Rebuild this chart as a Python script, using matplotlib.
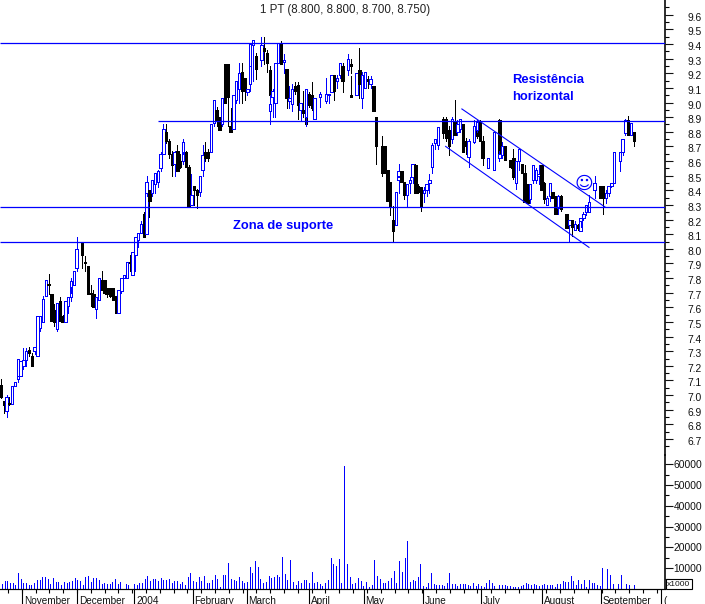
import numpy as np
import matplotlib
matplotlib.use("Agg")
import matplotlib.pyplot as plt
from matplotlib.transforms import ScaledTranslation

plt.rcParams['font.family'] = ['Liberation Sans', 'DejaVu Sans']

title = "1 PT (8.800, 8.800, 8.700, 8.750)"

day = [0,1,2,3,4,5,6,6,7,8, 9,10,11,12,13,14,15,16,17,18,
       19,20,21,22,22,23,24,25,25,26, 27,29,29,30,31,32,33,34,35,36,
       37,38,39,40,41,42,43,44,45,46, 47,48,49,50,51,52,52,53,54,55,
       56,57,58,59,60,61,62,63,64,65, 65,66,67,68,69,70,71,72,73,74,
       75,76,77,78,79,80,81,82,83,84, 85,86,87,88,89,89,90,91,93,94,
       95,96,96,97,98,99,100,101,102,103, 104,105,106,107,108,109,109,110,111,112,
       114,116,117,118,119,120,121,122,124,125, 125,127,128,129,130,131,132,133,134,136,
       137,138,139,140,141,142,142,143,144,145, 146,147,148,149,150,151,152,153,154,155,
       156,158,159,160,161,162,163,164,165,166, 167,169,170,170,171,172,174,176,176,178,
       178,179,180,182,183,184,185,186,187,188, 189,190,191,192,193,194,195,196,197,198,
       199,200,202,203,204,205,206,207,207,208, 209,210,212,214,215,215,216,217,218,219,
       221,222,223,224,225,226]

open_ = [7.07,6.96,6.89,6.945,6.94,7.06,7.11,7.13,7.13,7.20,
         7.24,7.31,7.27,7.30,7.27,7.46,7.50,7.68,7.76,7.69,
         7.58,7.45,7.64,7.54,7.54,7.50,7.61,7.67,7.74,7.75,
         7.87,8.05,7.98,7.91,7.88,7.70,7.69,7.59,7.65,7.79,
         7.79,7.73,7.73,7.73,7.68,7.56,7.71,7.80,7.80,7.91,
         7.82,7.96,8.06,8.11,8.24,8.10,8.38,8.40,8.38,8.44,
         8.46,8.55,8.65,8.80,8.74,8.65,8.58,8.67,8.60,8.60,
         8.66,8.66,8.56,8.30,8.43,8.405,8.39,8.54,8.66,8.66,
         8.66,8.86,8.95,8.90,8.85,9.26,9.26,8.84,8.82,9.02,
         9.09,9.21,9.17,9.07,9.13,9.25,9.39,9.32,9.29,9.37,
         9.34,9.22,8.94,9.04,9.00,9.27,9.41,9.28,9.23,9.01,
         8.99,9.11,9.12,8.95,8.95,8.94,8.90,9.06,9.05,8.89,
         9.04,9.01,9.05,9.07,9.19,9.15,9.19,9.25,9.22,9.26,
         9.05,9.05,9.22,9.03,9.10,9.16,9.13,9.11,8.90,8.70,
         8.70,8.54,8.46,8.20,8.16,8.50,8.47,8.53,8.46,8.37,
         8.45,8.49,8.57,8.43,8.42,8.38,8.40,8.45,8.56,8.72,
         8.71,8.89,8.89,8.81,8.75,8.87,8.80,8.82,8.85,8.74,
         8.63,8.73,8.84,8.81,8.87,8.74,8.55,8.61,8.54,8.88,
         8.62,8.64,8.70,8.61,8.62,8.45,8.60,8.58,8.52,8.44,
         8.34,8.47,8.47,8.50,8.57,8.45,8.30,8.36,8.39,8.36,
         8.28,8.36,8.24,8.16,8.20,8.13,8.16,8.12,8.19,8.21,
         8.25,8.25,8.40,8.43,8.43,8.40,8.35,8.38,8.43,8.45,
         8.60,8.66,8.79,8.88,8.78,8.80]

high = [7.11,6.96,7.00,6.99,7.06,7.09,7.13,7.25,7.23,7.32,
        7.32,7.33,7.29,7.33,7.54,7.54,7.68,7.79,7.83,7.69,
        7.62,7.63,7.67,7.55,7.55,7.64,7.67,7.80,7.78,7.85,
        8.08,8.05,7.98,7.95,7.88,7.75,7.72,7.67,7.80,7.85,
        7.79,7.73,7.73,7.73,7.68,7.72,7.80,7.82,7.91,7.96,
        7.98,8.08,8.11,8.19,8.25,8.39,8.50,8.40,8.47,8.52,
        8.54,8.66,8.85,8.85,8.75,8.67,8.67,8.71,8.65,8.75,
        8.74,8.67,8.57,8.51,8.43,8.41,8.50,8.71,8.73,8.68,
        8.85,9.02,8.97,8.90,9.03,9.26,9.26,8.96,9.05,9.15,
        9.27,9.27,9.17,9.09,9.25,9.40,9.43,9.34,9.45,9.45,
        9.36,9.25,9.05,9.09,9.27,9.41,9.42,9.33,9.23,9.11,
        9.13,9.14,9.14,9.00,9.08,8.96,9.09,9.07,9.14,9.03,
        9.07,9.17,9.06,9.19,9.19,9.19,9.27,9.27,9.33,9.30,
        9.18,9.20,9.37,9.21,9.21,9.18,9.18,9.11,8.90,8.77,
        8.70,8.54,8.46,8.29,8.39,8.58,8.50,8.53,8.46,8.44,
        8.49,8.58,8.58,8.44,8.42,8.42,8.44,8.51,8.72,8.75,
        8.83,8.90,8.90,8.84,8.90,9.02,8.88,8.89,8.85,8.76,
        8.75,8.88,8.87,8.88,8.88,8.77,8.62,8.61,8.80,8.89,
        8.67,8.73,8.70,8.61,8.68,8.60,8.68,8.58,8.57,8.44,
        8.44,8.57,8.55,8.57,8.57,8.46,8.36,8.45,8.39,8.36,
        8.37,8.37,8.24,8.20,8.20,8.19,8.17,8.19,8.21,8.25,
        8.30,8.37,8.50,8.43,8.43,8.40,8.40,8.43,8.45,8.66,
        8.66,8.75,8.89,8.91,8.86,8.80]

low = [6.98,6.88,6.85,6.93,6.94,7.06,7.09,7.13,7.13,7.18,
       7.20,7.27,7.20,7.28,7.27,7.44,7.50,7.68,7.69,7.51,
       7.47,7.44,7.51,7.50,7.50,7.50,7.56,7.64,7.70,7.75,
       7.85,7.87,7.95,7.85,7.69,7.61,7.60,7.53,7.65,7.72,
       7.69,7.67,7.67,7.65,7.56,7.56,7.70,7.80,7.80,7.85,
       7.82,7.85,8.01,8.11,8.08,8.10,8.36,8.22,8.36,8.38,
       8.42,8.53,8.65,8.72,8.62,8.50,8.50,8.53,8.55,8.58,
       8.65,8.56,8.29,8.30,8.30,8.28,8.36,8.50,8.60,8.60,
       8.66,8.84,8.84,8.81,8.84,9.00,8.84,8.80,8.82,9.00,
       9.00,9.00,9.02,9.05,9.08,9.25,9.15,9.16,9.25,9.26,
       9.21,8.85,8.85,8.90,8.90,9.27,9.26,9.20,8.96,8.96,
       8.94,9.06,8.89,8.88,8.90,8.85,8.84,8.97,8.95,8.89,
       8.97,9.00,9.00,9.07,9.02,9.10,9.17,9.07,9.19,9.20,
       9.04,9.05,9.03,8.96,9.10,9.10,9.10,8.94,8.58,8.50,
       8.52,8.33,8.23,8.05,8.16,8.42,8.38,8.46,8.34,8.29,
       8.38,8.45,8.38,8.38,8.26,8.32,8.36,8.38,8.52,8.68,
       8.68,8.76,8.74,8.64,8.72,8.78,8.78,8.80,8.66,8.65,
       8.56,8.72,8.76,8.80,8.74,8.57,8.55,8.55,8.54,8.62,
       8.60,8.62,8.61,8.55,8.48,8.41,8.54,8.52,8.32,8.31,
       8.31,8.45,8.45,8.44,8.40,8.31,8.30,8.33,8.35,8.24,
       8.24,8.26,8.14,8.05,8.09,8.13,8.13,8.12,8.15,8.20,
       8.23,8.25,8.35,8.35,8.34,8.24,8.31,8.36,8.42,8.45,
       8.53,8.64,8.78,8.78,8.78,8.70]

close = [6.99,6.93,6.99,6.94,7.06,7.09,7.13,7.25,7.23,7.24,
         7.30,7.29,7.20,7.33,7.54,7.54,7.66,7.79,7.755,7.51,
         7.50,7.63,7.51,7.50,7.50,7.64,7.67,7.74,7.78,7.85,
         8.00,7.97,7.96,7.90,7.69,7.69,7.60,7.67,7.80,7.72,
         7.70,7.69,7.68,7.65,7.56,7.72,7.80,7.82,7.91,7.90,
         7.98,8.08,8.11,8.17,8.08,8.39,8.46,8.33,8.47,8.52,
         8.53,8.65,8.82,8.74,8.65,8.57,8.66,8.53,8.56,8.73,
         8.73,8.56,8.29,8.37,8.40,8.37,8.50,8.64,8.62,8.62,
         8.85,9.02,8.88,8.81,9.03,9.00,9.04,8.80,9.05,9.15,
         9.20,9.08,9.08,9.09,9.25,9.40,9.43,9.23,9.39,9.355,
         9.27,9.05,8.99,9.08,9.27,9.41,9.26,9.29,9.03,9.03,
         9.09,9.08,8.98,9.00,8.93,8.85,9.09,8.98,8.96,9.03,
         9.06,9.06,9.06,9.19,9.08,9.17,9.27,9.15,9.30,9.25,
         9.04,9.20,9.13,9.19,9.21,9.15,9.16,8.94,8.70,8.52,
         8.52,8.33,8.29,8.12,8.39,8.53,8.49,8.46,8.37,8.44,
         8.47,8.58,8.38,8.39,8.29,8.40,8.44,8.47,8.71,8.75,
         8.83,8.79,8.76,8.70,8.89,8.78,8.85,8.89,8.66,8.70,
         8.74,8.84,8.77,8.87,8.74,8.62,8.62,8.57,8.80,8.62,
         8.65,8.70,8.61,8.56,8.49,8.60,8.68,8.52,8.32,8.31,
         8.44,8.57,8.54,8.51,8.40,8.34,8.35,8.45,8.35,8.24,
         8.36,8.27,8.14,8.20,8.15,8.17,8.14,8.19,8.21,8.24,
         8.30,8.32,8.45,8.35,8.35,8.35,8.38,8.43,8.45,8.66,
         8.66,8.75,8.88,8.78,8.86,8.74]

volume = [2.2,3.7,3.7,2.7,2.7,1.8,7.5,4.6,2.7,2.7,1.8,1.8,2.7,4.2,4.2,5.6,5.6,4.6,2.2,5.1,
          3.2,3.2,1.8,3.2,2.7,3.2,3.7,5.1,4.2,3.7,1.8,5.6,6.1,3.2,5.1,5.1,4.2,2.2,2.7,2.2,
          2.2,3.2,4.6,2.2,3.2,0,2.2,1.8,0,2.2,1.8,2.7,2.7,4.6,6.1,3.7,4.6,4.6,3.7,5.1,
          4.2,4.2,4.6,2.7,3.7,3.7,2.2,3.2,1.8,5.6,7.5,3.7,3.2,5.6,3.7,6.1,2.7,2.7,4.2,6.6,
          4.6,0.8,6.6,6.6,12.3,4.6,4.2,3.7,5.6,3.7,2.7,3.2,10.4,7.5,13.3,10.4,4.6,2.7,3.2,6.1,
          5.1,5.6,6.6,5.6,15.2,7,4.2,13.8,3.2,1.8,3.7,2.7,4.2,4.2,2.7,8,2.7,3.2,2.2,1.3,
          2.7,4.2,14.7,11.9,10.9,14.3,2.7,59,11.9,
          5.6,2.2,2.7,5.1,3.7,1.3,3.2,0.8,1.8,13.8,6.1,4.6,2.7,2.7,3.7,5.1,8.5,2.7,13.3,8,
          14.7,22.9,3.2,4.2,3.7,5.6,11.9,1.3,0.8,2.7,7.5,2.2,1.8,1.8,1.8,1.3,2.7,7.5,2.2,2.2,
          1.3,2.2,2.2,2.2,1.8,1.3,2.7,1.3,2.2,1.3,0.8,2.7,4.2,2.7,1.3,0,1.8,1.8,1.8,1.3,
          1.3,0.8,0.8,0.8,1.3,1.8,2.7,2.2,1.8,2.2,1.8,1.3,1.8,2.2,1.8,1.8,1.8,0.8,2.2,2.2,
          3.7,3.2,3.2,6.1,3.7,1.8,4.2,2.2,4.2,0.8,4.2,2.7,2.7,1.8,1.3,9.9,0,9.4,6.6,2.2,
          0,2.2,6.6,0,2.2,1.8,0,1.8]
# trading-day position of selected volume entries (entry number -> day)
volume_entry = [0, 127, 150, 236]
volume_entry_day = [0.3, 122.5, 145.1, 226.0]

hlines = [(9.41, -0.4), (8.877, 56), (8.286, -0.4), (8.05, -0.4)]
channel_upper_day = [164.6, 215.7]
channel_upper_price = [8.956, 8.286]
channel_lower_day = [158.8, 210.0]
channel_lower_price = [8.70, 8.01]

month_days = [7.6, 27.3, 47.6, 68.4, 87.7, 109.9, 129.5, 150.7, 171.4, 193.1, 214.2, 235.8]
month_labels = ["November", "December", "2004", "February", "March", "April", "May",
                "June", "July", "August", "September", "("]

BLUE = "#0000ff"
W, H = 705, 604
RIGHT = 665
PX = 72 / 100  # points per pixel

fig = plt.figure(figsize=(W / 100, H / 100), dpi=100, facecolor="white")

def make_axes(top, bottom):
    return fig.add_axes([0, 1 - bottom / H, RIGHT / W, (bottom - top) / H])

ax = make_axes(0, 455)
vx = make_axes(455, 589)

xlim = (-0.36, (RIGHT - 1) / 2.8)
p_per_px = 1 / 146.3
ax.set_xlim(*xlim)
ax.set_ylim(9.4 - 411 * p_per_px, 9.4 + 44 * p_per_px)
vx.set_xlim(*xlim)
vx.set_ylim(0, 134 / 20.8 * 10)

for a in (ax, vx):
    a.patch.set_alpha(0)
    for s in ("left", "top", "bottom"):
        a.spines[s].set_visible(False)
    a.spines["right"].set_linewidth(1.6 * PX)
    a.yaxis.tick_right()
    a.tick_params(axis="y", which="major", length=8 * PX, width=1.1 * PX,
                  labelsize=7.4, pad=29 * PX, colors="#111111")
    a.tick_params(axis="y", which="minor", length=4 * PX, width=1.1 * PX)

ax.set_xticks([])

# price axis
ptick = np.round(np.arange(6.7, 9.61, 0.1), 1)
ax.set_yticks(ptick)
ax.set_yticklabels([f"{v:.1f}" for v in ptick], ha="right")
ax.set_yticks(np.round(np.arange(6.65, 9.66, 0.1), 2), minor=True)
off = ScaledTranslation(0, -2 * PX / 72, fig.dpi_scale_trans)
for lab in ax.get_yticklabels():
    lab.set_transform(lab.get_transform() + off)

# volume axis
vtick = np.arange(10, 61, 10)
vx.set_yticks(vtick)
vx.set_yticklabels([f"{v * 1000}" for v in vtick], ha="right")
vx.set_yticks(np.arange(5, 61, 10), minor=True)

# x axis on the volume panel
vx.spines["bottom"].set_visible(True)
vx.spines["bottom"].set_linewidth(1.2 * PX)
vx.set_xticks(month_days)
vx.set_xticklabels([])
vx.set_xticks(np.arange(2.5, 236, 4.93), minor=True)
vx.tick_params(axis="x", which="major", length=15 * PX, width=1.1 * PX)
vx.tick_params(axis="x", which="minor", length=3.5 * PX, width=1.1 * PX)
for d, lbl in zip(month_days, month_labels):
    vx.annotate(lbl, (d, 0), xycoords=("data", "axes fraction"),
                xytext=(2.0 * PX, -11.5 * PX), textcoords="offset points",
                va="center", ha="left", fontsize=7.2, color="#111111",
                annotation_clip=False)

# candles
d = np.array(day, float)
o, h, l, c = map(np.array, (open_, high, low, close))
up = c >= o
for i in range(len(d)):
    col = BLUE if up[i] else "black"
    ax.vlines(d[i], l[i], h[i], color=col, lw=1.0 * PX, antialiased=False, zorder=2 + i * 0.001)
    ax.bar(d[i], abs(c[i] - o[i]), bottom=min(o[i], c[i]), width=0.8,
           facecolor="white" if up[i] else "black", edgecolor=col,
           linewidth=1.0 * PX, antialiased=False, zorder=2 + i * 0.001)

# support / resistance and channel
for price, start in hlines:
    ax.plot([start, xlim[1]], [price, price], color=BLUE, lw=1.25 * PX, zorder=4,
            solid_capstyle="butt", antialiased=True)
ax.plot(channel_upper_day, channel_upper_price, color=BLUE, lw=1.1 * PX, zorder=4)
ax.plot(channel_lower_day, channel_lower_price, color=BLUE, lw=1.1 * PX, zorder=4)

# volume
vday = np.interp(np.arange(len(volume)), volume_entry, volume_entry_day)
vx.vlines(vday, 0, volume, color=BLUE, lw=1.0 * PX, antialiased=False)

# annotations
def figtext(x, y, s, **kw):
    fig.text(x / W, 1 - y / H, s, **kw)

figtext(345.5, 9.5, title, ha="center", va="center", fontsize=8.3, color="#222222")
figtext(512, 80, "Resistência", ha="left", va="center", fontsize=9.4, fontweight="bold", color=BLUE)
figtext(512, 97, "horizontal", ha="left", va="center", fontsize=9.4, fontweight="bold", color=BLUE)
figtext(233, 226, "Zona de suporte", ha="left", va="center", fontsize=9.3, fontweight="bold", color=BLUE)
figtext(584, 184, "\u263a", ha="center", va="center", fontsize=13, color=BLUE, family="DejaVu Sans")
figtext(679, 584, "x1000", ha="center", va="center", fontsize=6, color="#111111",
        bbox=dict(boxstyle="square,pad=0.15", fc="white", ec="black", lw=0.8))

fig.savefig("out.png", dpi=100, facecolor="white")
